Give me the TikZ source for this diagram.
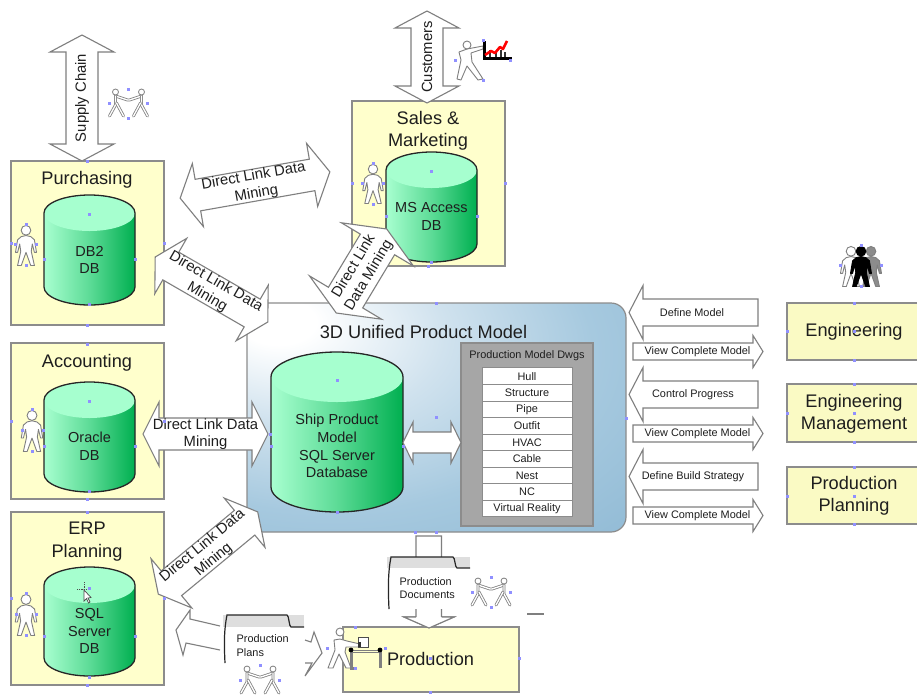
\documentclass[tikz,border=0pt]{standalone}
\usepackage{fontspec}
\setmainfont{Liberation Sans}
\usetikzlibrary{shadings,calc}
\definecolor{boxfill}{HTML}{FFFFCC}
\definecolor{rightfill}{HTML}{FAFAC4}
\definecolor{edgegray}{HTML}{8C8C8C}
\definecolor{arrowgray}{HTML}{7F7F7F}
\definecolor{cyllight}{HTML}{A8FFD0}
\definecolor{cyldark}{HTML}{00AF50}
\definecolor{cyltop}{HTML}{A6FFCF}
\definecolor{handlecol}{HTML}{9090FF}
\definecolor{inktext}{HTML}{1E1E1E}
\definecolor{dwggray}{HTML}{A6A6A6}
\definecolor{panela}{HTML}{D0E2EE}
\definecolor{panelb}{HTML}{A6C9DF}
\definecolor{panelc}{HTML}{8FB9D4}
\pgfdeclareradialshading{panelshade}{\pgfpoint{-22bp}{22bp}}{%
  color(0bp)=(white);
  color(5bp)=(white);
  color(19bp)=(panela);
  color(35bp)=(panelb);
  color(54bp)=(panelc);
  color(100bp)=(panelc)}
\tikzset{
  unitbox/.style={draw=edgegray,line width=1.3pt,fill=boxfill},
  rightbox/.style={draw=edgegray,line width=1.3pt,fill=rightfill},
  blockarrow/.style={draw=arrowgray,line width=1.1pt,fill=white,line join=miter},
  head/.style={font=\fontsize{18.2}{22.5}\selectfont,text=inktext,align=center,inner sep=0pt},
  cyltext/.style={font=\fontsize{14.5}{17.8}\selectfont,text=inktext,align=center,inner sep=0pt},
  arrowtext/.style={font=\fontsize{14.8}{17.6}\selectfont,text=inktext,align=center,inner sep=0pt},
  smalltext/.style={font=\fontsize{10.9}{13.2}\selectfont,text=inktext,align=center,inner sep=0pt},
  smallleft/.style={font=\fontsize{10.9}{13.2}\selectfont,text=inktext,align=left,inner sep=0pt,anchor=west},
  cylline/.style={draw=black!85,line width=1.3pt},
  rowbox/.style={draw=edgegray,line width=1pt,fill=white},
  handle/.style={fill=handlecol},
  figline/.style={draw=arrowgray,line width=.9pt,fill=white,line join=round},
  pairline/.style={draw=arrowgray,line width=.8pt,double=white,double distance=1.3pt,line cap=round,line join=round},
}
% #1 name, #2 left, #3 right, #4 top, #5 bottom, #6 ry
\newcommand\dbcyl[6]{%
  \pgfmathsetmacro\cx{(#2+#3)/2}\pgfmathsetmacro\rx{(#3-#2)/2}%
  \pgfmathsetmacro\ya{#4+#6}\pgfmathsetmacro\yb{#5-#6}%
  \path[left color=cyllight,right color=cyldark,middle color=cyllight!55!cyldark]
    (#2,\ya) -- (#2,\yb) arc[start angle=180,end angle=360,x radius=\rx,y radius=-#6] -- (#3,\ya)
    arc[start angle=0,end angle=180,x radius=\rx,y radius=-#6] -- cycle;
  \fill[cyltop] (\cx,\ya) ellipse[x radius=\rx,y radius=#6];
  \draw[cylline] (#2,\ya) -- (#2,\yb) arc[start angle=180,end angle=360,x radius=\rx,y radius=-#6] -- (#3,\ya)
    arc[start angle=0,end angle=180,x radius=\rx,y radius=-#6];
  \coordinate (#1) at (\cx,{(#4+#5)/2});
}
% #1 name, #2 cx, #3 cy, #4 angle, #5 half length, #6 shaft half, #7 head half, #8 head length, #9 text
\newcommand\dblarrow[9]{%
  \begin{scope}[shift={(#2,#3)},rotate=#4]
    \draw[blockarrow] (-#5,0) -- ({-#5+#8},-#7) -- ({-#5+#8},-#6) -- ({#5-#8},-#6) -- ({#5-#8},-#7)
      -- (#5,0) -- ({#5-#8},#7) -- ({#5-#8},#6) -- ({-#5+#8},#6) -- ({-#5+#8},#7) -- cycle;
    \node[arrowtext,rotate=#4] (#1) at (0,0) {#9};
  \end{scope}%
}
% single horizontal arrows: #1 name, #2 x left, #3 x right, #4 cy, #5 shaft half, #6 head half, #7 head len, #8 text cx, #9 text
\newcommand\leftarrowbox[9]{%
  \draw[blockarrow] (#2,#4) -- ({#2+#7},{#4-#6}) -- ({#2+#7},{#4-#5}) -- (#3,{#4-#5}) -- (#3,{#4+#5})
    -- ({#2+#7},{#4+#5}) -- ({#2+#7},{#4+#6}) -- cycle;
  \node[smalltext] (#1) at (#8,#4) {#9};
}
\newcommand\rightarrowbox[9]{%
  \draw[blockarrow] (#3,#4) -- ({#3-#7},{#4-#6}) -- ({#3-#7},{#4-#5}) -- (#2,{#4-#5}) -- (#2,{#4+#5})
    -- ({#3-#7},{#4+#5}) -- ({#3-#7},{#4+#6}) -- cycle;
  \node[smalltext] (#1) at (#8,#4) {#9};
}
% standing person: x centre, y top, height, fill, draw
\newcommand\personfig[5]{%
  \begin{scope}[shift={(#1,#2)},scale={#3/40}]
    \draw[line width=.9pt,fill=#4,draw=#5,line join=round]
      (0,11) -- (4.5,12) -- (8,15) -- (10,27) -- (8,27) -- (6,19) -- (5,26) -- (8,39.5) -- (4.5,39.5) -- (0,27)
      -- (-4.5,39.5) -- (-8,39.5) -- (-5,26) -- (-6,19) -- (-8,27) -- (-10,27) -- (-8,15) -- (-4.5,12) -- cycle;
    \draw[line width=.9pt,fill=#4,draw=#5] (0,6) circle[radius=4.6];
  \end{scope}%
}
% two people holding hands: centre x, top y
\newcommand\pairfig[2]{%
  \begin{scope}[shift={(#1,#2)}]
    \draw[pairline] (-13,8) -- (-1,12) -- (1,12) -- (13,8);
    \draw[pairline] (-19,28) -- (-13,17) -- (-13,8);
    \draw[pairline] (-5,28) -- (-12,15);
    \draw[pairline] (19,28) -- (13,17) -- (13,8);
    \draw[pairline] (5,28) -- (12,15);
    \draw[draw=arrowgray,line width=.8pt,fill=white] (-13,4) circle[radius=3];
    \draw[draw=arrowgray,line width=.8pt,fill=white] (13,4) circle[radius=3];
  \end{scope}%
}
\newcommand\docshape[6]{% left, right, top, tabbottom, bottom, tab x end
  \fill[white] (#1,#4) rectangle (#2,#5);
  \fill[black!13] (#1,#3) rectangle (#2,#4);
  \draw[black!85,line width=1.2pt] ({#1+2},#5) .. controls ({#1+1},{#5-20}) and ({#1+1},{#3+15}) .. ({#1+4},#3)
    -- (#6,#3) .. controls ({#6+2},#3) and ({#6+2},#4) .. ({#6+4},#4) -- (#2,#4);
}
\begin{document}
\begin{tikzpicture}[x=1pt,y=-1pt]
\useasboundingbox (0,0) rectangle (917,694);
\fill[white] (0,0) rectangle (917,694);

% --- panel
\path[shading=panelshade,rounded corners=15pt] (247,303) rectangle (626,532);
\draw[draw=edgegray,line width=1.2pt,rounded corners=15pt] (247,303) rectangle (626,532);
\node[head] (panelt) at (423.5,332) {3D Unified Product Model};

% --- sales box and its contents
\draw[unitbox] (352,101) rectangle (505,266);
\node[head] (salest) at (428,131) {Sales \&\\Marketing};
\dbcyl{salescyl}{386}{477}{152}{262}{18}
\node[cyltext] (salesdb) at (431.5,216.5) {MS Access\\DB};
\personfig{373}{163}{41}{white}{arrowgray}

% --- left boxes
\draw[unitbox] (11,161) rectangle (164,325);
\node[head] (purt) at (87,179.5) {Purchasing};
\dbcyl{purcyl}{44}{135}{195}{305}{18}
\node[cyltext] (purdb) at (89.5,260) {DB2\\DB};
\personfig{26}{224}{42}{white}{arrowgray}

\draw[unitbox] (11,343) rectangle (164,499);
\node[head] (acct) at (87,362.5) {Accounting};
\dbcyl{acccyl}{44}{135}{382}{492}{18}
\node[cyltext] (accdb) at (89.5,446.5) {Oracle\\DB};
\personfig{32}{409}{43}{white}{arrowgray}

\draw[unitbox] (11,512) rectangle (164,685);
\node[head] (erpt) at (87,541.5) {ERP\\Planning};
\dbcyl{erpcyl}{44}{135}{567}{676}{18}
\node[cyltext] (erpdb) at (89.5,631) {SQL\\Server\\DB};
\personfig{26}{593}{43}{white}{arrowgray}
% cursor on the ERP cylinder
\draw[black!70,line width=.8pt,densely dotted] (77,589) -- (91,589) (84,582) -- (84,596);
\draw[fill=white,draw=black!70,line width=.7pt] (84,590) -- (84,601) -- (86.5,598.5) -- (88.5,603) -- (90,602) -- (88,598) -- (91,597.5) -- cycle;

% --- big cylinder and drawing list
\dbcyl{bigcyl}{271}{403}{352}{512}{25}
\node[cyltext] (bigdb) at (337,446) {Ship Product\\Model\\SQL Server\\Database};
\draw[draw=edgegray,line width=1.2pt,fill=dwggray] (461,343) rectangle (593,526);
\node[smalltext] (dwgt) at (527,356) {Production Model Dwgs};
\foreach \nm/\yy/\tx in {a/0/Hull,b/1/Structure,c/2/Pipe,d/3/Outfit,e/4/HVAC,f/5/Cable,g/6/Nest,h/7/NC,i/8/Virtual Reality}{
  \node[rowbox,smalltext,minimum width=90pt,minimum height=16.5pt] (row\nm) at (527,{376.2+\yy*16.55}) {\tx};
}

% --- block arrows
\dblarrow{supply}{82}{98}{90}{63}{16}{32}{17}{Supply Chain}
\dblarrow{custom}{427}{57}{90}{46}{16}{32}{17}{Customers}
\dblarrow{dl1}{255}{185}{10}{76}{16}{32}{18}{Direct Link Data\\Mining}
\dblarrow{dl2}{211.5}{289.5}{-30}{65}{16}{32}{18}{Direct Link Data\\Mining}
\dblarrow{dl3}{205.5}{434}{0}{62.5}{16}{32}{16}{Direct Link Data\\Mining}
\dblarrow{dl4}{208}{553}{39.6}{64.5}{16}{32}{17}{Direct Link Data\\Mining}
\dblarrow{dl5}{361.5}{271}{59}{49}{20}{42}{18}{Direct Link\\Data Mining}
\dblarrow{linkdw}{432}{442.5}{0}{29}{10.5}{20.5}{10}{}

\leftarrowbox{def}{629}{758}{312.5}{13.5}{27}{14}{692}{Define Model}
\leftarrowbox{ctl}{629}{758}{394.5}{13.5}{27}{14}{693}{Control Progress}
\leftarrowbox{bld}{629}{758}{476.5}{13.5}{27}{14}{693}{Define Build Strategy}
\rightarrowbox{vw1}{633}{763}{351.5}{8.5}{16}{10}{697.5}{View Complete Model}
\rightarrowbox{vw2}{633}{763}{433.5}{8.5}{16}{10}{697.5}{View Complete Model}
\rightarrowbox{vw3}{633}{763}{515.5}{8.5}{16}{10}{697.5}{View Complete Model}

% --- right boxes
\draw[rightbox] (787,303) rectangle (925,360);
\node[head] (engt) at (854,332) {Engineering};
\draw[rightbox] (787,384) rectangle (925,442);
\node[head] (mgmt) at (854,414) {Engineering\\Management};
\draw[rightbox] (787,467) rectangle (925,524);
\node[head] (ppt) at (854,496) {Production\\Planning};

% three people
\personfig{851}{245}{42}{white}{arrowgray}
\personfig{871}{245}{42}{black!45}{arrowgray}
\personfig{861}{245}{42}{black}{black}

% --- production box, arrows and documents
\draw[blockarrow] (429,628) -- (404,617) -- (416,617) -- (416,536) -- (441.5,536) -- (441.5,617) -- (454,617) -- cycle;
\draw[unitbox] (343,627) rectangle (519,692);
\draw[blockarrow] (416,617) -- (404,617) -- (429,628) -- (454,617) -- (441.5,617);
\docshape{387}{470}{557}{568}{609}{453}
\node[smallleft] (docst) at (399.5,588) {Production\\Documents};
\node[head] (prodt) at (430.5,659) {Production};

\draw[blockarrow] (220,626) -- (190,619) -- (190,610) -- (176,630) -- (183,655) -- (186,643) -- (220,650);
\draw[blockarrow] (305,640) -- (311,642) -- (314,632) -- (322,653) -- (305,676) -- (312,663) -- (305,663);
\docshape{223}{304}{615}{627}{663}{287}
\node[smallleft] (planst) at (236.5,645.5) {Production\\Plans};

% worker
\begin{scope}
  \draw[figline] (340,639) -- (347,641) -- (360,644) -- (360,647) -- (346,647) -- (345,652) -- (351,668) -- (346,668) -- (339,654) -- (333,668) -- (328,668) -- (335,650) -- (334,640) -- cycle;
  \draw[figline] (340,632) circle[radius=4];
  \draw[draw=black!70,line width=.7pt,fill=white] (358,637) rectangle (368,647);
  \fill[black!80] (358,642) rectangle (361,647);
  \draw[arrowgray,line width=1pt] (351,650) -- (381,650) (351,652) -- (381,652);
  \draw[black!50,line width=3pt] (351,652) -- (351,668) -- (356,668) (380,652) -- (380,668);
  \fill[black] (351,650) circle[radius=2.4] (380,650) circle[radius=2.4];
\end{scope}

\draw[arrowgray,line width=1.2pt] (527,614) -- (544,614);

% pairs
\pairfig{128.5}{88}
\pairfig{491}{577}
\pairfig{260}{665}

% pointing man with chart
\draw[figline] (467,49) -- (483,46) -- (483,49) -- (471,53) -- (472,62) -- (483,79) -- (478,80) -- (467,66) -- (461,80) -- (457,79) -- (461,60) -- (459,52) -- cycle;
\draw[figline] (467,45) circle[radius=4];
\draw[black!80,line width=1.6pt] (490,57) -- (490,50) (496,57) -- (496,52) (501,57) -- (501,50) (505,57) -- (505,52);
\draw[black,line width=3pt] (484.5,41) -- (484.5,58) -- (512,58);
\draw[red,line width=2.6pt,line join=round] (485,55) -- (491,51) -- (495,53) -- (500,47) -- (503,49) -- (507,41);

% selection handles
\foreach \px/\py in {87/161,87/325,164/243,11/243,89.5/214,44/259,135/259,89.5/304,26/224,26/265,15/244,36/244,
  128/89,128/118,109/103,147/103,
  428/266,352/183,505/183,431/171,386/216,477/216,431/262,373/163,373/204,362/183,383/183,
  483/40,455/60,483/80,510/60,
  436/303,436/532,626/418,337/380,271/446,403/446,337/512,436/417,
  87/344,87/499,11/421,164/421,89.5/401,44/446,135/446,89.5/491,32/409,32/451,22/430,43/430,
  87/512,87/685,11/598,164/598,89.5/588,44/636,135/636,89.5/677,26/593,26/635,16/614,36/614,
  854/303,854/360,787/331,854/331,854/384,854/442,787/413,854/413,854/467,854/524,787/496,854/496,
  861/245,861/286,840/265,881/265,
  491/577,491/607,472/592,510/592,260/665,240/680,279/680,
  355/627,355/668,327/648,385/648,430/692,519/658,430/658,
  270/434,415/532}{
  \fill[handle] ({\px-1.5},{\py-1.5}) rectangle ({\px+1.5},{\py+1.5});
}
\end{tikzpicture}
\end{document}
